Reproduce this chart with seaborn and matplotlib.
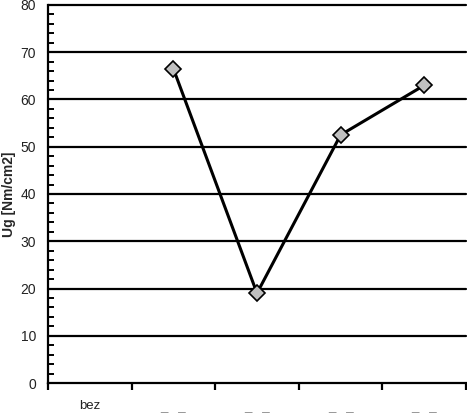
import pandas as pd
import seaborn as sns
import matplotlib.pyplot as plt
import numpy as np
from matplotlib.ticker import MultipleLocator, FixedLocator

# data
categories = ['bez', '_   _', '_   _', '_   _', '_   _']
ug_values = [np.nan, 66.5, 19.0, 52.5, 63.0]

df = pd.DataFrame({'pos': np.arange(len(categories)), 'Ug': ug_values})

sns.set_style('white')
plt.rcParams['font.family'] = ['Liberation Sans', 'DejaVu Sans']

fig = plt.figure(figsize=(4.67, 4.15), dpi=100)
ax = fig.add_axes([48 / 467, 1 - 383 / 415, 418 / 467, 378 / 415])

# grid lines at the major y ticks
for yv in range(10, 90, 10):
    ax.axhline(yv, color='black', lw=1.6, zorder=1, clip_on=False)

sns.lineplot(data=df.dropna(), x='pos', y='Ug', ax=ax, color='black', lw=2.2,
             marker='D', markersize=8, markerfacecolor='#c0c0c0',
             markeredgecolor='black', markeredgewidth=1.2, zorder=3)

ax.set_xlim(-0.5, len(categories) - 0.5)
ax.set_ylim(0, 80)

for s in ['top', 'right']:
    ax.spines[s].set_visible(False)
for s in ['left', 'bottom']:
    ax.spines[s].set_color('black')
    ax.spines[s].set_linewidth(1.6)

ax.yaxis.set_major_locator(MultipleLocator(10))
ax.yaxis.set_minor_locator(MultipleLocator(2))
ax.tick_params(axis='y', which='major', direction='out', length=5, width=1.6,
               labelsize=10, colors='black', labelcolor='#222222')
ax.tick_params(axis='y', which='minor', direction='in', length=4, width=1.4,
               colors='black', left=True)

# category labels in the middle, tick marks at the boundaries
ax.set_xticks(np.arange(len(categories)))
ax.set_xticklabels(categories)
ax.xaxis.set_minor_locator(FixedLocator(np.arange(-0.5, len(categories), 1.0)))
ax.tick_params(axis='x', which='major', length=0, pad=12, labelsize=9.5)
ax.tick_params(axis='x', which='minor', direction='out', length=5, width=1.6,
               colors='black', bottom=True)
for i, lab in enumerate(ax.get_xticklabels()):
    lab.set_color('#222222' if i == 0 else '#888888')

ax.set_xlabel('')
ax.set_ylabel('Ug [Nm/cm2]', fontsize=10, fontweight='bold', labelpad=3)

fig.savefig('out.png', dpi=100)
